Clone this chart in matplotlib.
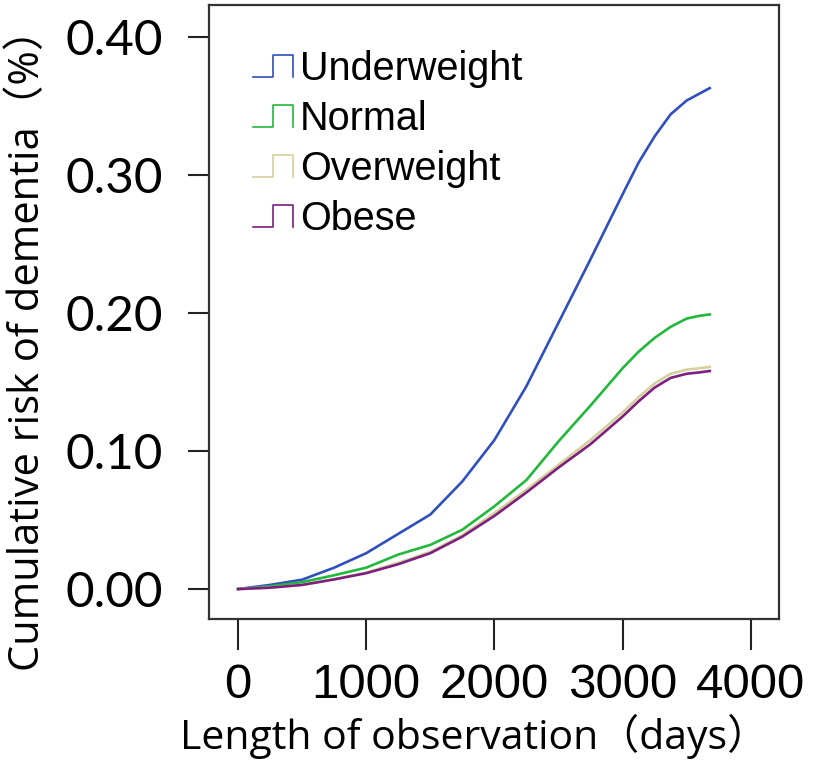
import matplotlib
matplotlib.use('Agg')
import matplotlib.pyplot as plt
from matplotlib.legend_handler import HandlerBase
from matplotlib.lines import Line2D

# values (days, cumulative risk %)
days = [0, 250, 500, 750, 1000, 1250, 1500, 1750, 2000, 2250, 2500, 2750, 3000, 3125, 3250, 3375, 3500, 3600, 3680]
underweight = [0, 0.003, 0.0068, 0.0155, 0.026, 0.040, 0.054, 0.078, 0.108, 0.147, 0.193, 0.239, 0.286, 0.309, 0.328, 0.344, 0.354, 0.359, 0.363]
normal = [0, 0.002, 0.005, 0.010, 0.0155, 0.025, 0.032, 0.043, 0.060, 0.079, 0.107, 0.133, 0.160, 0.172, 0.182, 0.190, 0.196, 0.198, 0.199]
overweight = [0, 0.001, 0.003, 0.007, 0.012, 0.019, 0.027, 0.039, 0.055, 0.072, 0.090, 0.108, 0.128, 0.139, 0.149, 0.156, 0.159, 0.160, 0.161]
obese = [0, 0.001, 0.003, 0.007, 0.0115, 0.018, 0.026, 0.038, 0.053, 0.070, 0.088, 0.105, 0.125, 0.136, 0.146, 0.153, 0.156, 0.157, 0.158]

groups = ['Underweight', 'Normal', 'Overweight', 'Obese']
colors = ['#2f4fbd', '#22b83c', '#d6cf9f', '#7d1f7f']
series = [underweight, normal, overweight, obese]

xticks = [0, 1000, 2000, 3000, 4000]
yticks = [0.0, 0.1, 0.2, 0.3, 0.4]
ytick_labels = ['0.00', '0.10', '0.20', '0.30', '0.40']


class StepHandler(HandlerBase):
    # legend key drawn as a little step pulse, like the R survival plot
    def create_artists(self, legend, orig_handle, xdescent, ydescent,
                       width, height, fontsize, trans):
        xs = [0, 0.5, 0.5, 1, 1]
        ys = [0.0, 0.0, 1.0, 1.0, 0.0]
        x = [-xdescent + v * width for v in xs]
        y = [-ydescent + v * height for v in ys]
        ln = Line2D(x, y, color=orig_handle.get_color(), lw=1.2, transform=trans)
        return [ln]


fig = plt.figure(figsize=(8.27, 7.61), dpi=100)
ax = fig.add_axes([0.2527, 0.1866, 0.689, 0.8068])

handles = []
for name, vals, c in zip(groups, series, colors):
    ln, = ax.plot(days, vals, color=c, lw=1.9, label=name)
    handles.append(ln)

ax.set_xlim(-227, 4219)
ax.set_ylim(-0.0217, 0.4232)
ax.set_xticks(xticks)
ax.set_xticklabels([str(t) for t in xticks], fontfamily='Liberation Sans', fontsize=35.5)
ax.set_yticks(yticks)
ax.set_yticklabels(ytick_labels, fontfamily='Lato', fontsize=35.5)
ax.tick_params(axis='x', length=22, width=1.5, pad=10, colors='#222222', labelcolor='black')
ax.tick_params(axis='y', length=15, width=1.5, pad=18, colors='#222222', labelcolor='black')
for s in ax.spines.values():
    s.set_linewidth(1.6)
    s.set_color('#333333')

lab_font = ['Open Sans', 'Noto Sans CJK JP']
ax.set_ylabel('Cumulative risk of dementia（%）', family=lab_font, fontsize=30)
ax.set_xlabel('Length of observation（days）', family=lab_font, fontsize=29.5)
ax.yaxis.set_label_coords(-0.281, 0.455)
ax.xaxis.set_label_coords(0.465, -0.155)

leg = ax.legend(handles=handles, handler_map={Line2D: StepHandler()},
                loc='upper left', bbox_to_anchor=(0.306, 0.934), bbox_transform=fig.transFigure,
                frameon=False, borderpad=0, borderaxespad=0,
                handlelength=1.0, handleheight=0.5, handletextpad=0.18, labelspacing=0.3,
                prop={'family': 'Liberation Sans', 'size': 28.5})

fig.savefig('out.png', dpi=100)
